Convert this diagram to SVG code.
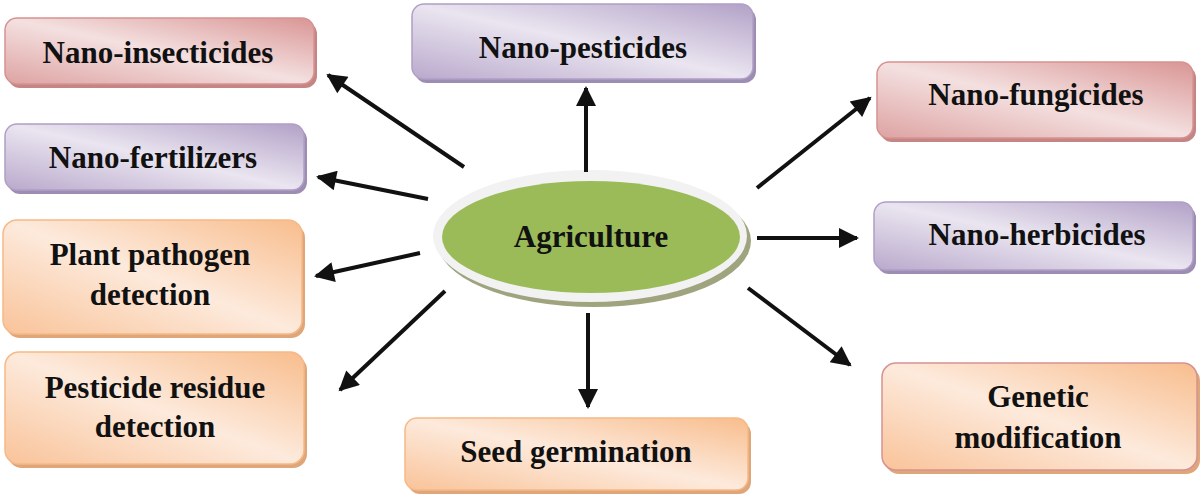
<svg xmlns="http://www.w3.org/2000/svg" width="1204" height="500" viewBox="0 0 1204 500">
<defs>
<linearGradient id="gRed" x1="0" y1="1" x2="1" y2="0">
<stop offset="0" stop-color="#dda3a2"/><stop offset="0.5" stop-color="#f4e0e0"/><stop offset="1" stop-color="#d99594"/>
</linearGradient>
<linearGradient id="gPur" x1="0" y1="1" x2="1" y2="0">
<stop offset="0" stop-color="#b9a9cc"/><stop offset="0.5" stop-color="#eae5f0"/><stop offset="1" stop-color="#b2a1c7"/>
</linearGradient>
<linearGradient id="gOra" x1="0" y1="1" x2="1" y2="0">
<stop offset="0" stop-color="#f9c399"/><stop offset="0.5" stop-color="#fdeadc"/><stop offset="1" stop-color="#f8bd8d"/>
</linearGradient>
<marker id="ah" viewBox="0 0 10 10" refX="9" refY="5" markerWidth="5.5" markerHeight="5" orient="auto" markerUnits="strokeWidth">
<path d="M0,0 L10,5 L0,10 Z" fill="#111"/>
</marker>
<style>
.t{font-family:'Liberation Serif','Times New Roman',serif;font-weight:700;font-size:31px;fill:#111;text-anchor:middle}
.red .s{fill:#c48584}.red .b{fill:url(#gRed);stroke:#d69291;stroke-width:1.5}
.pur .s{fill:#9d8db2}.pur .b{fill:url(#gPur);stroke:#b09fc6;stroke-width:1.5}
.ora .s{fill:#dfa67a}.ora .b{fill:url(#gOra);stroke:#f6b987;stroke-width:1.5}
.gm .b{stroke:#d69291}
.c line{stroke:#111;stroke-width:4;marker-end:url(#ah)}
</style>
</defs>
<rect width="1204" height="500" fill="#fff"/>

<g id="nano-insecticides" class="red">
<rect class="s" x="8" y="22" width="309" height="66" rx="12"/>
<rect class="b" x="5" y="18" width="309" height="66" rx="12"/>
<text class="t" x="158" y="63">Nano-insecticides</text>
</g>
<g id="nano-pesticides" class="pur">
<rect class="s" x="415" y="8" width="341" height="75" rx="12"/>
<rect class="b" x="412" y="4" width="341" height="75" rx="12"/>
<text class="t" x="583" y="58">Nano-pesticides</text>
</g>
<g id="nano-fertilizers" class="pur">
<rect class="s" x="8" y="128" width="299" height="66" rx="12"/>
<rect class="b" x="5" y="124" width="299" height="66" rx="12"/>
<text class="t" x="153" y="168">Nano-fertilizers</text>
</g>
<g id="plant-pathogen" class="ora">
<rect class="s" x="6" y="224" width="299" height="114" rx="14"/>
<rect class="b" x="3" y="220" width="299" height="114" rx="14"/>
<text class="t" x="150" y="265">Plant pathogen</text>
<text class="t" x="150" y="305">detection</text>
</g>
<g id="pesticide-residue" class="ora">
<rect class="s" x="8" y="356" width="299" height="112" rx="14"/>
<rect class="b" x="5" y="352" width="299" height="112" rx="14"/>
<text class="t" x="155" y="398">Pesticide residue</text>
<text class="t" x="155" y="437">detection</text>
</g>
<g id="seed-germination" class="ora">
<rect class="s" x="408" y="422" width="343" height="72" rx="12"/>
<rect class="b" x="405" y="418" width="343" height="72" rx="12"/>
<text class="t" x="576" y="462">Seed germination</text>
</g>
<g id="nano-fungicides" class="red">
<rect class="s" x="880" y="66" width="316" height="76" rx="12"/>
<rect class="b" x="877" y="62" width="316" height="76" rx="12"/>
<text class="t" x="1036" y="105">Nano-fungicides</text>
</g>
<g id="nano-herbicides" class="pur">
<rect class="s" x="877" y="206" width="319" height="68" rx="12"/>
<rect class="b" x="874" y="202" width="319" height="68" rx="12"/>
<text class="t" x="1037" y="245">Nano-herbicides</text>
</g>
<g id="genetic-modification" class="ora gm">
<rect class="s" x="885" y="367" width="315" height="107" rx="14"/>
<rect class="b" x="882" y="363" width="315" height="107" rx="14"/>
<text class="t" x="1038" y="407">Genetic</text>
<text class="t" x="1038" y="448">modification</text>
</g>

<g id="agriculture">
<ellipse cx="594" cy="241" rx="157" ry="66" fill="#9fa47f"/>
<ellipse cx="590" cy="236" rx="157" ry="66" fill="#f2f2f2"/>
<ellipse cx="591" cy="237" rx="149" ry="56" fill="#9bbb59"/>
<text class="t" x="591" y="247">Agriculture</text>
</g>

<g id="connectors" class="c">
<line x1="464" y1="167" x2="328" y2="75"/>
<line x1="428" y1="199" x2="318" y2="177"/>
<line x1="420" y1="253" x2="316" y2="276"/>
<line x1="445" y1="291" x2="340" y2="390"/>
<line x1="586" y1="172" x2="586" y2="88"/>
<line x1="588" y1="313" x2="588" y2="407"/>
<line x1="757" y1="188" x2="870" y2="98"/>
<line x1="757" y1="238" x2="857" y2="238"/>
<line x1="748" y1="288" x2="850" y2="365"/>
</g>
</svg>
